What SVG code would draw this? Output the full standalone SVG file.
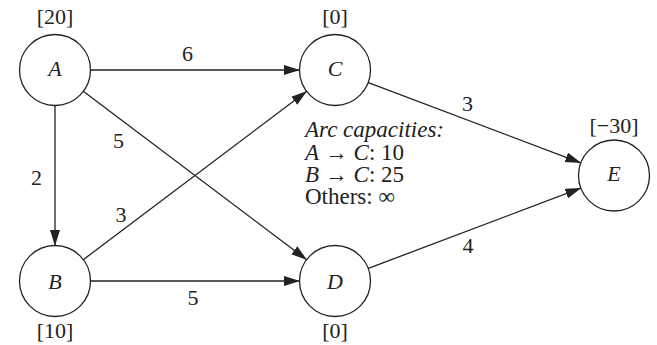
<svg xmlns="http://www.w3.org/2000/svg" width="657" height="345" viewBox="0 0 657 345">
<style>
.node{fill:#fff;stroke:#222;stroke-width:1.3}
.edge{fill:none;stroke:#222;stroke-width:1.3;marker-end:url(#arr)}
</style>
<defs>
<marker id="arr" markerUnits="userSpaceOnUse" markerWidth="17" markerHeight="11" refX="16" refY="5" orient="auto">
<path d="M0,0 L16,5 L0,10 z" fill="#222"/>
</marker>
</defs>
<g id="connectors">
<line class="edge" x1="90" y1="70" x2="300" y2="70"/>
<line class="edge" x1="82.95" y1="91.06" x2="307.05" y2="259.94"/>
<line class="edge" x1="55" y1="105" x2="55" y2="246"/>
<line class="edge" x1="82.95" y1="259.94" x2="307.05" y2="91.06"/>
<line class="edge" x1="90" y1="281" x2="300" y2="281"/>
<line class="edge" x1="367.7" y1="82.4" x2="581.3" y2="163.1"/>
<line class="edge" x1="367.7" y1="268.6" x2="581.3" y2="187.9"/>
<text font-family="Liberation Serif" font-size="22" fill="#222" text-anchor="middle" x="187.5" y="61">6</text>
<text font-family="Liberation Serif" font-size="22" fill="#222" text-anchor="middle" x="118.5" y="148">5</text>
<text font-family="Liberation Serif" font-size="22" fill="#222" text-anchor="middle" x="36.5" y="185">2</text>
<text font-family="Liberation Serif" font-size="22" fill="#222" text-anchor="middle" x="121" y="222">3</text>
<text font-family="Liberation Serif" font-size="22" fill="#222" text-anchor="middle" x="193" y="305">5</text>
<text font-family="Liberation Serif" font-size="22" fill="#222" text-anchor="middle" x="467.5" y="111">3</text>
<text font-family="Liberation Serif" font-size="22" fill="#222" text-anchor="middle" x="468" y="253">4</text>
</g>
<g id="A"><circle class="node" cx="55" cy="70" r="35.5"/><text font-family="Liberation Serif" font-size="22" fill="#222" font-style="italic" text-anchor="middle" x="55" y="76">A</text><text font-family="Liberation Serif" font-size="22" fill="#222" text-anchor="middle" x="55" y="24">[20]</text></g>
<g id="C"><circle class="node" cx="335" cy="70" r="35.5"/><text font-family="Liberation Serif" font-size="22" fill="#222" font-style="italic" text-anchor="middle" x="335" y="76">C</text><text font-family="Liberation Serif" font-size="22" fill="#222" text-anchor="middle" x="335" y="24">[0]</text></g>
<g id="B"><circle class="node" cx="55" cy="281" r="35.5"/><text font-family="Liberation Serif" font-size="22" fill="#222" font-style="italic" text-anchor="middle" x="55" y="289">B</text><text font-family="Liberation Serif" font-size="22" fill="#222" text-anchor="middle" x="55" y="338">[10]</text></g>
<g id="D"><circle class="node" cx="335" cy="281" r="35.5"/><text font-family="Liberation Serif" font-size="22" fill="#222" font-style="italic" text-anchor="middle" x="335" y="289">D</text><text font-family="Liberation Serif" font-size="22" fill="#222" text-anchor="middle" x="335" y="338">[0]</text></g>
<g id="E"><circle class="node" cx="614" cy="175.5" r="35.5"/><text font-family="Liberation Serif" font-size="22" fill="#222" font-style="italic" text-anchor="middle" x="614" y="181">E</text><text font-family="Liberation Serif" font-size="22" fill="#222" text-anchor="middle" x="614" y="133">[−30]</text></g>
<g id="note">
<text font-family="Liberation Serif" font-size="23" fill="#222" font-style="italic" x="305" y="137">Arc capacities:</text>
<text font-family="Liberation Serif" font-size="23" fill="#222" x="305" y="159.5"><tspan font-style="italic">A</tspan> → <tspan font-style="italic">C</tspan>: 10</text>
<text font-family="Liberation Serif" font-size="23" fill="#222" x="305" y="181.5"><tspan font-style="italic">B</tspan> → <tspan font-style="italic">C</tspan>: 25</text>
<text font-family="Liberation Serif" font-size="23" fill="#222" x="305" y="204">Others: ∞</text>
</g>
</svg>
